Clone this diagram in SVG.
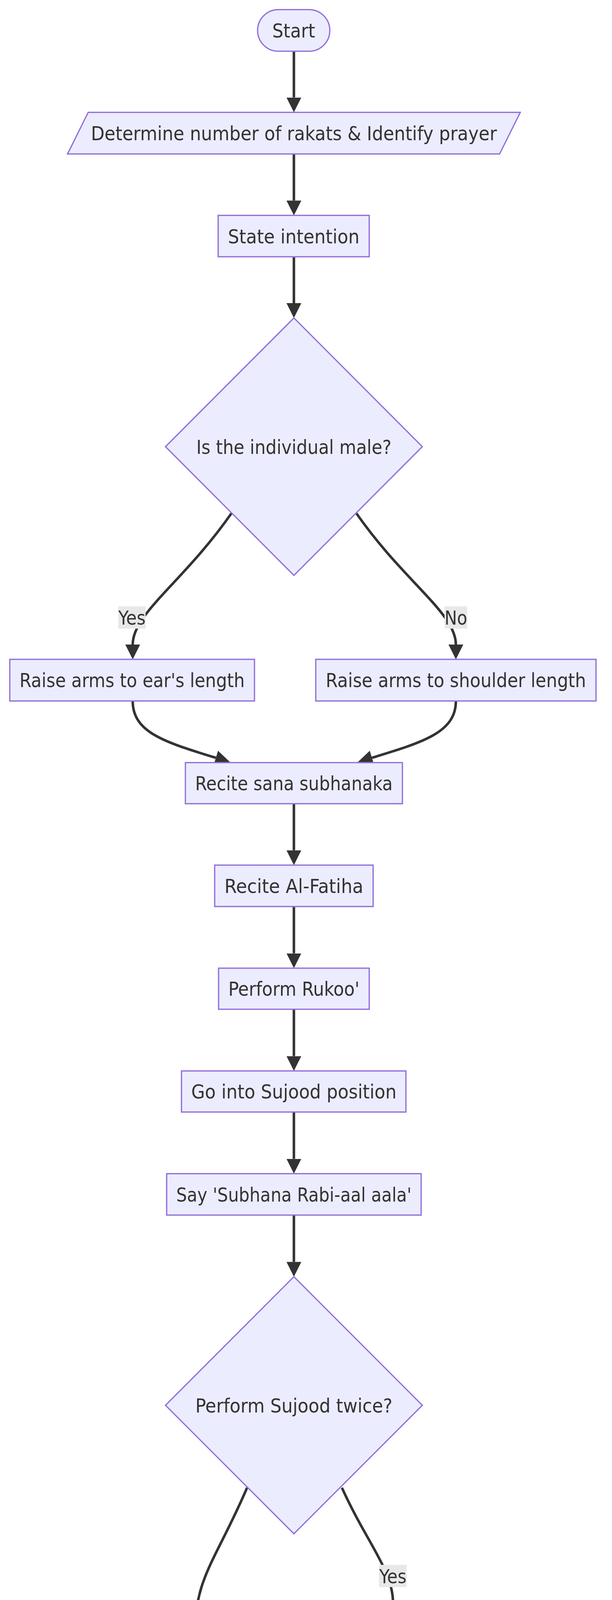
<svg xmlns="http://www.w3.org/2000/svg" width="1568" height="6522" viewBox="0 0 1568 6522">
<style>
.node{fill:#ECECFF;stroke:#9370DB;stroke-width:3.25}
.lbl{font-family:"DejaVu Sans Condensed","DejaVu Sans",sans-serif;font-size:50px;fill:#333333;text-anchor:middle}
.edge{fill:none;stroke:#333333;stroke-width:6.5;marker-end:url(#arrow)}
.ebg{fill:#e8e8e8}
</style>
<defs>
<marker id="arrow" viewBox="0 0 10 10" refX="0" refY="5" markerUnits="userSpaceOnUse" markerWidth="38" markerHeight="38" orient="auto">
<path d="M0,0 L10,5 L0,10 z" fill="#333333"/>
</marker>
</defs>
<rect width="1568" height="6522" fill="#ffffff"/>
<g id="edges">
<path class="edge" d="M753,131.2 L753,249.6"/>
<path class="edge" d="M753,394.2 L753,513.4"/>
<path class="edge" d="M753,657.3 L753,776"/>
<path class="edge" d="M593,1314 C470,1490 340,1570 340,1650"/>
<path class="edge" d="M913,1314 C1036,1490 1168,1570 1168,1650"/>
<path class="edge" d="M340,1794.5 C340,1875 422,1900 553,1940"/>
<path class="edge" d="M1168,1794.5 C1168,1875 1084,1900 953,1940"/>
<path class="edge" d="M753,2057.5 L753,2176.7"/>
<path class="edge" d="M753,2320.7 L753,2440.5"/>
<path class="edge" d="M753,2583.7 L753,2703.6"/>
<path class="edge" d="M753,2846.8 L753,2966.6"/>
<path class="edge" d="M753,3110.6 L753,3230.4"/>
<path class="edge" d="M876,3808.6 C940,3950 1007,4020 1007,4104"/>
<path class="edge" d="M633,3808.6 C560,3980 500,4040 500,4170 L500,4230 C500,4300 540,4340 614,4388"/>
<path class="edge" d="M1007,4248.4 C1007,4310 975,4345 900,4388"/>
<path class="edge" d="M753,4512.2 L753,4630.7"/>
<path class="edge" d="M596,5161 C480,5330 348,5410 348,5495"/>
<path class="edge" d="M910,5161 C1026,5330 1158,5410 1158,5495"/>
<path class="edge" d="M348,5639.5 C348,5720 430,5745 554.5,5784.7"/>
<path class="edge" d="M1158,5639.5 C1158,5720 1076,5745 951.5,5784.7"/>
<path class="edge" d="M753,5902.5 L753,6021.7"/>
<path class="edge" d="M753,6165.6 L753,6284.7"/>
</g>
<g id="edge-labels">
<rect class="ebg" x="303" y="1552.3" width="70" height="57"/>
<text class="lbl" x="338" y="1599" textLength="70" lengthAdjust="spacingAndGlyphs">Yes</text>
<rect class="ebg" x="1139" y="1552.3" width="58" height="57"/>
<text class="lbl" x="1168" y="1599" textLength="58" lengthAdjust="spacingAndGlyphs">No</text>
<rect class="ebg" x="971" y="4006" width="71" height="57"/>
<text class="lbl" x="1006.5" y="4052.7" textLength="70" lengthAdjust="spacingAndGlyphs">Yes</text>
<rect class="ebg" x="471" y="4167.8" width="59" height="57"/>
<text class="lbl" x="500.5" y="4214.4" textLength="58" lengthAdjust="spacingAndGlyphs">No</text>
<rect class="ebg" x="313" y="5396.4" width="70" height="57"/>
<text class="lbl" x="348" y="5443.1" textLength="70" lengthAdjust="spacingAndGlyphs">Yes</text>
<rect class="ebg" x="1129" y="5396.4" width="59" height="57"/>
<text class="lbl" x="1158.5" y="5443.1" textLength="58" lengthAdjust="spacingAndGlyphs">No</text>
</g>
<g id="start">
<rect class="node" x="660" y="24.6" width="185" height="106.6" rx="53.3" ry="53.3"/>
<text class="lbl" x="752.5" y="96.1" textLength="110" lengthAdjust="spacingAndGlyphs">Start</text>
</g>
<g id="determine">
<polygon class="node" points="226,287.6 1333,287.6 1280,394.2 173,394.2"/>
<text class="lbl" x="753" y="359.1" textLength="1040" lengthAdjust="spacingAndGlyphs">Determine number of rakats &amp; Identify prayer</text>
</g>
<g id="state-intention">
<rect class="node" x="559" y="551.4" width="387" height="105.9"/>
<text class="lbl" x="752.5" y="622.6" textLength="337" lengthAdjust="spacingAndGlyphs">State intention</text>
</g>
<g id="is-male">
<polygon class="node" points="753,814 1082,1143.5 753,1473 424,1143.5"/>
<text class="lbl" x="753" y="1161.7" textLength="500" lengthAdjust="spacingAndGlyphs">Is the individual male?</text>
</g>
<g id="raise-ear">
<rect class="node" x="25" y="1687.9" width="627" height="106.6"/>
<text class="lbl" x="338.5" y="1759.4" textLength="577" lengthAdjust="spacingAndGlyphs">Raise arms to ear's length</text>
</g>
<g id="raise-shoulder">
<rect class="node" x="809" y="1687.9" width="718" height="106.6"/>
<text class="lbl" x="1168" y="1759.4" textLength="667" lengthAdjust="spacingAndGlyphs">Raise arms to shoulder length</text>
</g>
<g id="recite-sana">
<rect class="node" x="475" y="1952.3" width="556" height="105.2"/>
<text class="lbl" x="753" y="2023.1" textLength="506" lengthAdjust="spacingAndGlyphs">Recite sana subhanaka</text>
</g>
<g id="recite-fatiha">
<rect class="node" x="550" y="2214.7" width="406" height="106"/>
<text class="lbl" x="753" y="2285.9" textLength="356" lengthAdjust="spacingAndGlyphs">Recite Al-Fatiha</text>
</g>
<g id="perform-rukoo">
<rect class="node" x="560" y="2478.5" width="386" height="105.2"/>
<text class="lbl" x="753" y="2549.3" textLength="336" lengthAdjust="spacingAndGlyphs">Perform Rukoo'</text>
</g>
<g id="sujood-position">
<rect class="node" x="465" y="2741.6" width="575" height="105.2"/>
<text class="lbl" x="753" y="2812.4" textLength="526" lengthAdjust="spacingAndGlyphs">Go into Sujood position</text>
</g>
<g id="say-subhana">
<rect class="node" x="427" y="3004.6" width="652" height="106"/>
<text class="lbl" x="753" y="3075.8" textLength="603" lengthAdjust="spacingAndGlyphs">Say 'Subhana Rabi-aal aala'</text>
</g>
<g id="sujood-twice">
<polygon class="node" points="753,3268.4 1082,3597.5 753,3926.5 424,3597.5"/>
<text class="lbl" x="753" y="3615.7" textLength="505" lengthAdjust="spacingAndGlyphs">Perform Sujood twice?</text>
</g>
<g id="repeat-subhana">
<rect class="node" x="640" y="4141.8" width="733" height="106.6"/>
<text class="lbl" x="1007" y="4213.3" textLength="685" lengthAdjust="spacingAndGlyphs">Repeat 'Subhana Rabi-aal aala'</text>
</g>
<g id="say-tayaat">
<rect class="node" x="577" y="4405.6" width="352" height="106.6"/>
<text class="lbl" x="753" y="4477.1" textLength="304" lengthAdjust="spacingAndGlyphs">Say At-Tayaat</text>
</g>
<g id="first-sitting">
<polygon class="node" points="753,4668.7 1077,4993.3 753,5317.6 429,4993.3"/>
<text class="lbl" x="753" y="5011.5" textLength="493" lengthAdjust="spacingAndGlyphs">First sitting in prayer?</text>
</g>
<g id="continue-tayaat">
<rect class="node" x="52" y="5532.8" width="592" height="106.7"/>
<text class="lbl" x="348" y="5604.3" textLength="543" lengthAdjust="spacingAndGlyphs">Continue with At-Tayaat</text>
</g>
<g id="say-durood">
<rect class="node" x="801" y="5532.8" width="714" height="106.7"/>
<text class="lbl" x="1158" y="5604.3" textLength="664" lengthAdjust="spacingAndGlyphs">Say Durood &amp; Rabbana A-Tina</text>
</g>
<g id="greet-angels">
<rect class="node" x="586" y="5796.6" width="334" height="105.9"/>
<text class="lbl" x="753" y="5867.7" textLength="285" lengthAdjust="spacingAndGlyphs">Greet angels</text>
</g>
<g id="prayer-completed">
<polygon class="node" points="548,6059.7 1012,6059.7 959,6165.6 494,6165.6"/>
<text class="lbl" x="753" y="6130.8" textLength="398" lengthAdjust="spacingAndGlyphs">Prayer completed</text>
</g>
<g id="end">
<rect class="node" x="675" y="6322.7" width="156" height="106.7" rx="53.3" ry="53.3"/>
<text class="lbl" x="753" y="6394.2" textLength="81" lengthAdjust="spacingAndGlyphs">End</text>
</g>
</svg>
